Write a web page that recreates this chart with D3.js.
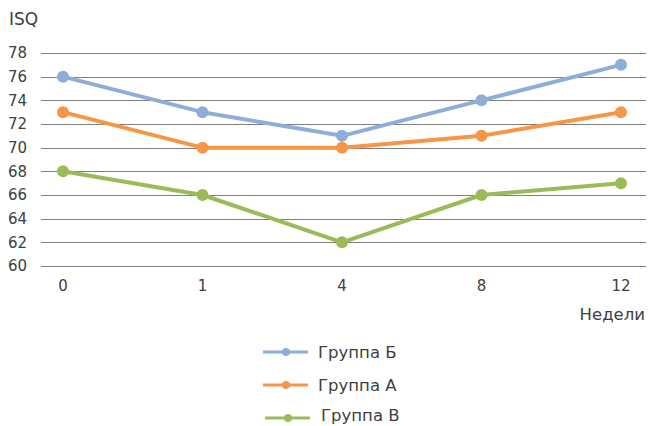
<!DOCTYPE html>
<html>
<head>
<meta charset="utf-8">
<script src="https://cdn.jsdelivr.net/npm/d3@7"></script>
<style>
  body { margin: 0; background: #fff; }
  svg text { font-family: "DejaVu Sans", sans-serif; fill: #404040; }
</style>
</head>
<body>
<svg id="chart" width="648" height="426"></svg>
<script>
// Weeks of observation and ISQ values per group
const weeks = ["0", "1", "4", "8", "12"];
const groupB = [76, 73, 71, 74, 77];
const groupA = [73, 70, 70, 71, 73];
const groupV = [68, 66, 62, 66, 67];
const yTicks = [60, 62, 64, 66, 68, 70, 72, 74, 76, 78];
const seriesNames = ["Группа Б", "Группа А", "Группа В"];
const seriesColors = ["#8DAED8", "#F79646", "#9BBB59"];
const seriesValues = [groupB, groupA, groupV];

const svg = d3.select("#chart");

const x = d3.scalePoint().domain(weeks).range([63, 621]);
const y = d3.scaleLinear().domain([60, 78]).range([266, 53]);

// Horizontal gridlines
svg.append("g")
  .selectAll("line")
  .data(yTicks)
  .join("line")
  .attr("x1", 41).attr("x2", 646)
  .attr("y1", d => Math.round(y(d)) + 0.5)
  .attr("y2", d => Math.round(y(d)) + 0.5)
  .attr("stroke", "#7f7f7f")
  .attr("stroke-width", 1);

// Y axis labels
svg.append("g")
  .selectAll("text")
  .data(yTicks)
  .join("text")
  .attr("x", 27).attr("y", d => y(d))
  .attr("dy", "0.35em")
  .attr("text-anchor", "end")
  .attr("font-size", 15)
  .text(d => d);

// X axis labels
svg.append("g")
  .selectAll("text")
  .data(weeks)
  .join("text")
  .attr("x", d => x(d)).attr("y", 286)
  .attr("dy", "0.35em")
  .attr("text-anchor", "middle")
  .attr("font-size", 15)
  .text(d => d);

// Axis titles
svg.append("text").attr("x", 9).attr("y", 25).attr("font-size", 17).text("ISQ");
svg.append("text").attr("x", 645).attr("y", 320).attr("text-anchor", "end")
  .attr("font-size", 16.5).text("Недели");

// Lines with markers
const line = d3.line().x((d, i) => x(weeks[i])).y(d => y(d));
seriesValues.forEach((vals, k) => {
  const g = svg.append("g");
  g.append("path")
    .datum(vals)
    .attr("d", line)
    .attr("fill", "none")
    .attr("stroke", seriesColors[k])
    .attr("stroke-width", 4)
    .attr("stroke-linejoin", "round");
  g.selectAll("circle")
    .data(vals)
    .join("circle")
    .attr("cx", (d, i) => x(weeks[i]))
    .attr("cy", d => y(d))
    .attr("r", 6)
    .attr("fill", seriesColors[k]);
});

// Legend
const legendY = [352, 385, 418];
const legendX = [263, 263, 265];
const legend = svg.append("g");
seriesNames.forEach((name, k) => {
  const lx = legendX[k], ly = legendY[k];
  legend.append("line")
    .attr("x1", lx).attr("x2", lx + 45)
    .attr("y1", ly).attr("y2", ly)
    .attr("stroke", seriesColors[k]).attr("stroke-width", 3);
  legend.append("circle")
    .attr("cx", lx + 23).attr("cy", ly).attr("r", 4)
    .attr("fill", seriesColors[k]);
  legend.append("text")
    .attr("x", lx + 55 + (k === 2 ? 1 : 0)).attr("y", ly)
    .attr("dy", k === 2 ? "0.18em" : "0.35em")
    .attr("font-size", 16.5)
    .text(name);
});
</script>
</body>
</html>
